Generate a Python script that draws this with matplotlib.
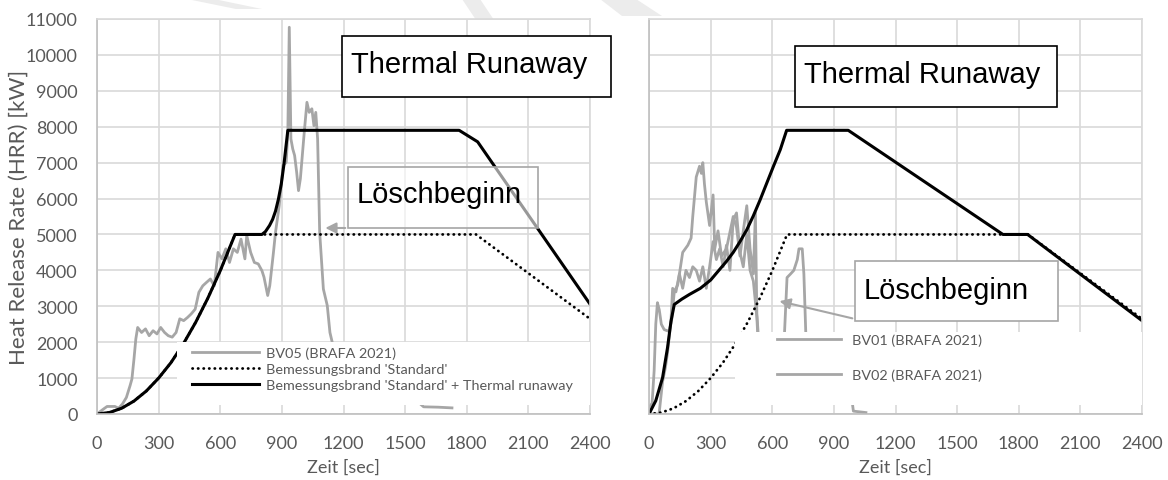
import matplotlib
matplotlib.use("Agg")
import matplotlib.pyplot as plt
from matplotlib.patches import Rectangle, Polygon

plt.rcParams['font.family'] = ['Lato', 'DejaVu Sans']

# --- left: BV05 measurement vs. design fires ---
bv05_t = [0, 32, 49, 87, 105, 124, 143, 161, 170, 180, 189, 198, 217, 236, 254, 273, 292, 310, 329, 347,
          366, 385, 403, 422, 441, 459, 478, 496, 515, 534, 552, 571, 589, 608, 627, 645, 664, 683, 701, 720,
          729, 748, 766, 785, 803, 813, 831, 841, 859, 869, 887, 906, 921, 929, 936, 944, 953, 962, 972, 981,
          990, 1009, 1022, 1033, 1046, 1056, 1065, 1074, 1084, 1102, 1121, 1134, 1145, 1167, 1186, 1300, 1450,
          1570, 1590, 1660, 1728]
bv05_q = [0, 140, 210, 210, 160, 280, 460, 790, 975, 1530, 2090, 2410, 2270, 2370, 2180, 2320, 2230, 2410, 2270, 2180,
          2140, 2270, 2650, 2600, 2690, 2790, 2920, 3390, 3570, 3670, 3760, 3570, 4500, 4320, 4600, 4220, 4600, 4500, 4870, 4320,
          4970, 4500, 4220, 4180, 3990, 3810, 3300, 3570, 4500, 5060, 5800, 6920, 7010, 7850, 10770, 7660, 7380, 7200, 6730, 6220,
          6550, 7850, 8680, 8400, 8500, 8030, 8400, 7660, 5060, 3480, 3020, 2270, 2000, 880, 450, 380, 330,
          300, 200, 190, 170]

# design fire 'Standard' (t^2 growth up to 5 MW)
std_t = [0, 60, 120, 180, 240, 300, 360, 420, 480, 540, 600, 672, 1845, 2400]
std_q = [0, 40, 160, 360, 640, 1000, 1430, 1950, 2550, 3230, 3990, 5000, 5000, 2650]

# 'Standard' + thermal runaway, left
tr1_t = [0, 60, 120, 180, 240, 300, 360, 420, 480, 540, 600, 672, 803, 820, 840, 855, 869, 883, 897, 910,
         929, 1763, 1853, 2400]
tr1_q = [0, 40, 160, 360, 640, 1000, 1430, 1950, 2550, 3230, 3990, 5000, 5000, 5080, 5250, 5420, 5650, 5980, 6400, 6950,
         7900, 7900, 7580, 3060]

# --- right: BV01 / BV02 ---
bv01_t = [0, 15, 25, 33, 41, 50, 60, 74, 98, 110, 123, 140, 164, 189, 205, 213, 230, 246, 255, 262,
          270, 279, 295, 312, 320, 336, 353, 377, 410, 426, 443, 459, 476, 492, 508, 518, 525, 540, 560]
bv01_q = [180, 300, 1200, 2500, 3100, 2900, 2500, 2350, 2300, 2600, 3400, 3600, 4500, 4700, 4900, 5500, 6600, 6900, 6700, 7000,
          6400, 5900, 5250, 6100, 4600, 5100, 4400, 4600, 5500, 5200, 4400, 5100, 5800, 4600, 3900, 5600, 2800, 1500, 600]

bv02_t = [0, 49, 66, 80, 90, 107, 115, 131, 148, 164, 180, 197, 213, 230, 246, 262, 279, 295, 312, 328,
          344, 361, 377, 394, 410, 426, 443, 459, 476, 492, 508, 525, 540, 560, 640, 660, 672, 689, 705, 722,
          730, 746, 754, 763, 775, 850, 990, 995, 1056]
bv02_q = [0, 0, 900, 1300, 1700, 2600, 3500, 3400, 3900, 3500, 4000, 3800, 4100, 4000, 3700, 4100, 3500, 4100, 4800, 4300,
          4600, 4100, 4700, 4000, 5400, 5600, 4500, 4100, 5000, 4000, 3700, 2700, 1000, 500, 500, 2300, 3800, 3900, 4000, 4300,
          4600, 4600, 3900, 2300, 800, 500, 300, 80, 40]

# 'Standard' + thermal runaway, right
tr2_t = [0, 33, 66, 90, 107, 123, 160, 197, 250, 300, 340, 377, 410, 443, 476, 508, 540, 574, 606, 639,
         670, 970, 1723, 1843, 2400]
tr2_q = [0, 370, 1010, 1840, 2580, 3050, 3200, 3330, 3500, 3730, 4000, 4250, 4500, 4800, 5130, 5520, 5950, 6440, 6900, 7360,
         7900, 7900, 5000, 5000, 2600]

xticks = list(range(0, 2401, 300))
yticks = list(range(0, 11001, 1000))

W, H = 1168, 481
GRAY = '#a6a6a6'
TXT = '#595959'

fig = plt.figure(figsize=(W / 100, H / 100), dpi=100)
ax1 = fig.add_axes([97 / W, 66 / H, 493 / W, 395 / H])
ax2 = fig.add_axes([649 / W, 66 / H, 493 / W, 395 / H])

# faint watermark strokes in the top margin
for pts in ([(187, 0), (214, 0), (262, 10), (236, 10)],
            [(462, 0), (480, 0), (494, 21), (476, 21)],
            [(600, 0), (636, 0), (662, 17), (622, 17)]):
    fig.add_artist(Polygon([(x / W, 1 - y / H) for x, y in pts], closed=True,
                           transform=fig.transFigure, facecolor='#ececec',
                           edgecolor='none', zorder=-1))

for ax in (ax1, ax2):
    ax.set_xlim(0, 2400)
    ax.set_ylim(0, 11000)
    ax.set_xticks(xticks)
    ax.set_yticks(yticks)
    ax.set_axisbelow(True)
    ax.grid(True, color='#d9d9d9', lw=1.2)
    ax.tick_params(length=0, labelsize=13, labelcolor=TXT)
    ax.tick_params(axis='x', pad=15)
    for s in ('top', 'right'):
        ax.spines[s].set_color('#d9d9d9')
    for s in ('left', 'bottom'):
        ax.spines[s].set_color('#bfbfbf')
    for s in ax.spines.values():
        s.set_linewidth(1.2)
    ax.set_xlabel('Zeit [sec]', fontsize=13, color=TXT)
    ax.xaxis.set_label_coords(0.5, -0.113)

ax1.tick_params(axis='y', pad=14)
ax1.set_ylabel('Heat Release Rate (HRR) [kW]', fontsize=16, color=TXT)
ax1.yaxis.set_label_coords(-0.138, 0.5)
ax2.set_yticklabels([])

# left panel curves
l1, = ax1.plot(bv05_t, bv05_q, color=GRAY, lw=2.0, label='BV05 (BRAFA 2021)')
l2, = ax1.plot(std_t, std_q, color='black', lw=2.0, ls=(0, (0.1, 1.9)), dash_capstyle='round',
               label="Bemessungsbrand 'Standard'")
l3, = ax1.plot(tr1_t, tr1_q, color='black', lw=2.2, label="Bemessungsbrand 'Standard' + Thermal runaway")

# right panel curves
r1, = ax2.plot(bv01_t, bv01_q, color=GRAY, lw=2.0, label='BV01 (BRAFA 2021)')
r2, = ax2.plot(bv02_t, bv02_q, color=GRAY, lw=2.0, label='BV02 (BRAFA 2021)')
ax2.plot(std_t, std_q, color='black', lw=2.0, ls=(0, (0.1, 1.9)), dash_capstyle='round')
ax2.plot(tr2_t, tr2_q, color='black', lw=2.2)

# white legend areas
ax1.add_patch(Rectangle((0.162, 0.022), 0.838, 0.160, transform=ax1.transAxes,
                        facecolor='white', edgecolor='none', zorder=4))
ax2.add_patch(Rectangle((0.174, 0.022), 0.826, 0.186, transform=ax2.transAxes,
                        facecolor='white', edgecolor='none', zorder=4))

leg1 = ax1.legend(handles=[l1, l2, l3], loc='upper left', bbox_to_anchor=(0.193, 0.172),
                  frameon=False, fontsize=10.4, borderpad=0, borderaxespad=0,
                  handlelength=4.6, handletextpad=0.5, labelspacing=0.3)
leg2 = ax2.legend(handles=[r1, r2], loc='upper left', bbox_to_anchor=(0.26, 0.203),
                  frameon=False, fontsize=10.4, borderpad=0, borderaxespad=0,
                  handlelength=4.4, handletextpad=0.75, labelspacing=1.5)
for leg in (leg1, leg2):
    for t in leg.get_texts():
        t.set_color(TXT)
    leg.set_zorder(5)

# Löschbeginn arrows
ax1.annotate('', xy=(1098, 5180), xytext=(1222, 5180),
             arrowprops=dict(arrowstyle='-|>', color=GRAY, lw=1.5, mutation_scale=16))
ax2.annotate('', xy=(622, 3160), xytext=(1003, 2646),
             arrowprops=dict(arrowstyle='-|>', color=GRAY, lw=1.5, mutation_scale=16))


def label_box(x0, y0, x1, y1, text, base, edge, alpha=1.0):
    fig.add_artist(Rectangle((x0 / W, 1 - y1 / H), (x1 - x0) / W, (y1 - y0) / H,
                             transform=fig.transFigure, facecolor=(1, 1, 1, alpha),
                             edgecolor=edge, lw=1.2, zorder=6))
    fig.text((x0 + 9) / W, 1 - base / H, text, fontsize=21, family='Liberation Sans',
             ha='left', va='baseline', color='black', zorder=7)


label_box(342, 37, 611, 98, 'Thermal Runaway', 73, 'black')
label_box(795, 47, 1057, 108, 'Thermal Runaway', 83, 'black')
label_box(348, 168, 538, 229, 'Löschbeginn', 203, GRAY, alpha=0.6)
label_box(855, 262, 1058, 322, 'Löschbeginn', 299, GRAY)

fig.savefig('out.png', dpi=100)
